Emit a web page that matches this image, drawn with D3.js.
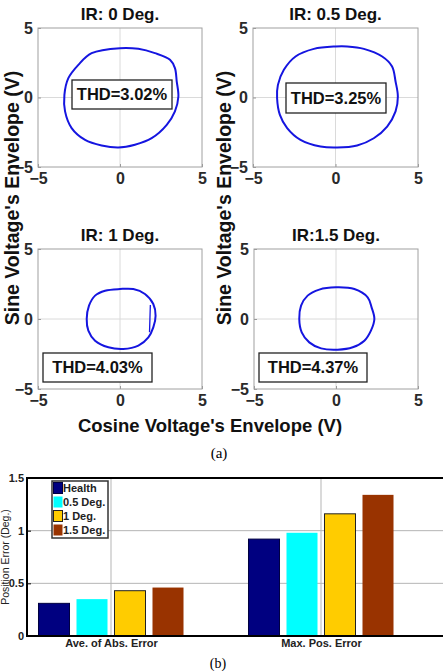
<!DOCTYPE html>
<html>
<head>
<meta charset="UTF-8">
<title>Envelope loops and position error</title>
<script src="https://d3js.org/d3.v7.min.js"></script>
<style>
  body { margin: 0; background: #fff; }
  svg { display: block; font-family: "Liberation Sans", Arial, sans-serif; }
</style>
</head>
<body>
<svg id="chart" width="443" height="671"></svg>
<script>
// ---- data ----
const panelTitles = ["IR: 0 Deg.", "IR: 0.5 Deg.", "IR: 1 Deg.", "IR:1.5 Deg."];
const thdLabels = ["THD=3.02%", "THD=3.25%", "THD=4.03%", "THD=4.37%"];
const voltTicks = [-5, 0, 5];

// cosine / sine envelope loops, [cos, sin] in volts
const loopIR0 = [[0,3.55],[-1.73,3.19],[-2.54,2.35],[-3.15,1.39],[-3.39,0.19],[-3.35,-1.0],[-2.95,-2.2],
  [-2.13,-3.05],[-1.12,-3.45],[-0.1,-3.6],[0.91,-3.4],[1.93,-2.93],[2.85,-1.97],[3.35,-1.0],[3.56,0.07],
  [3.46,1.15],[3.35,2.11],[3.05,2.71],[2.13,3.19],[1.12,3.5]];
const loopIR05 = [[0,3.67],[-1.31,3.5],[-2.42,2.95],[-3.13,1.99],[-3.49,0.91],[-3.54,-0.05],[-3.37,-1.25],
  [-2.93,-2.2],[-2.12,-3.05],[-0.91,-3.53],[0.1,-3.6],[1.31,-3.45],[2.32,-2.93],[3.13,-2.09],[3.64,-1.0],
  [3.78,0.07],[3.64,1.15],[3.43,2.23],[2.83,2.95],[1.72,3.5],[0.71,3.67]];
const loopIR1 = [[0,2.14],[-0.91,2.02],[-1.52,1.67],[-1.89,0.95],[-2.03,0],[-1.93,-0.83],[-1.52,-1.55],
  [-0.71,-2.02],[0.2,-2.14],[1.12,-1.9],[1.73,-1.31],[2.03,-0.6],[2.17,0.24],[2.03,1.07],[1.52,1.79],[0.81,2.14]];
const chordIR1 = [[1.85,1.0],[1.8,-0.95]];
const loopIR15 = [[0,2.26],[-1.02,2.1],[-1.73,1.67],[-2.13,0.95],[-2.24,0],[-2.09,-0.95],[-1.63,-1.67],
  [-0.91,-2.1],[0.1,-2.19],[1.02,-2.02],[1.73,-1.55],[2.13,-0.83],[2.34,0],[2.17,0.83],[1.93,1.55],[1.12,2.14]];
const loops = [loopIR0, loopIR05, loopIR1, loopIR15];

// bar chart
const barCategories = ["Ave. of Abs. Error", "Max. Pos. Error"];
const barSeries = ["Health", "0.5 Deg.", "1 Deg.", "1.5 Deg."];
const healthErr = [0.31, 0.92];
const deg05Err = [0.35, 0.98];
const deg1Err = [0.43, 1.16];
const deg15Err = [0.46, 1.34];
const barTicks = [0, 0.5, 1, 1.5];
const barTickLabels = ["0", "0.5", "1", "1.5"];

// ---- layout / styles ----
const svg = d3.select('#chart');
const loopColor = '#1515e0';
const panels = [
  { left: 38, top: 28, w: 164, h: 139, box: [34, 52, 100, 29] },
  { left: 253, top: 28, w: 165, h: 139, box: [33, 55, 100, 30] },
  { left: 38, top: 249, w: 164, h: 140, box: [5, 104, 109, 29] },
  { left: 254, top: 249, w: 164, h: 140, box: [5, 104, 108, 29] }
];

panels.forEach((p, i) => {
  const g = svg.append('g').attr('transform', `translate(${p.left},${p.top})`);
  const x = d3.scaleLinear().domain([-5, 5]).range([0, p.w]);
  const y = d3.scaleLinear().domain([-5, 5]).range([p.h, 0]);

  // grid lines at 0
  g.append('line').attr('x1', x(0)).attr('x2', x(0)).attr('y1', 0).attr('y2', p.h)
    .attr('stroke', '#dadada').attr('stroke-width', 1);
  g.append('line').attr('x1', 0).attr('x2', p.w).attr('y1', y(0)).attr('y2', y(0))
    .attr('stroke', '#dadada').attr('stroke-width', 1);

  const xAxis = g.append('g').attr('transform', `translate(0,${p.h})`)
    .call(d3.axisBottom(x).tickValues(voltTicks).tickSize(-3).tickPadding(6));
  const yAxis = g.append('g')
    .call(d3.axisLeft(y).tickValues(voltTicks).tickSize(-3).tickPadding(5));
  [xAxis, yAxis].forEach(a => {
    a.attr('font-family', null).attr('font-size', null);
    a.select('.domain').remove();
    a.selectAll('line').attr('stroke', '#999');
    a.selectAll('text').attr('fill', '#2a2a2a').style('font-size', '16px').style('font-weight', 'bold');
  });

  g.append('rect').attr('width', p.w).attr('height', p.h)
    .attr('fill', 'none').attr('stroke', '#a0a0a0').attr('stroke-width', 1);

  // loop
  const line = d3.line().x(d => x(d[0])).y(d => y(d[1])).curve(d3.curveCatmullRomClosed.alpha(0.5));
  g.append('path').attr('d', line(loops[i]))
    .attr('fill', 'none').attr('stroke', loopColor).attr('stroke-width', 2);
  if (i === 2) {
    g.append('path').attr('d', d3.line().x(d => x(d[0])).y(d => y(d[1]))(chordIR1))
      .attr('fill', 'none').attr('stroke', loopColor).attr('stroke-width', 1.3);
  }

  // THD box
  const [bx, by, bw, bh] = p.box;
  g.append('rect').attr('x', bx).attr('y', by).attr('width', bw).attr('height', bh)
    .attr('fill', '#fff').attr('stroke', '#222').attr('stroke-width', 1.3);
  g.append('text').attr('x', bx + bw / 2).attr('y', by + bh / 2).attr('dy', '0.36em')
    .attr('text-anchor', 'middle').style('font-size', '16.5px').style('font-weight', 'bold')
    .attr('fill', '#111').text(thdLabels[i]);

  // title
  g.append('text').attr('x', p.w / 2).attr('y', -8).attr('text-anchor', 'middle')
    .style('font-size', '17px').style('font-weight', 'bold').attr('fill', '#111')
    .text(panelTitles[i]);
});

// axis labels of the loop grid
[12, 224].forEach(cx => {
  svg.append('text').attr('transform', `translate(${cx},198) rotate(-90)`)
    .attr('text-anchor', 'middle').attr('dy', '0.36em')
    .style('font-size', '19.5px').style('font-weight', 'bold').attr('fill', '#111')
    .text("Sine Voltage's Envelope (V)");
});
svg.append('text').attr('x', 210).attr('y', 432).attr('text-anchor', 'middle')
  .style('font-size', '18.5px').style('font-weight', 'bold').attr('fill', '#111')
  .text("Cosine Voltage's Envelope (V)");
svg.append('text').attr('x', 219).attr('y', 458).attr('text-anchor', 'middle')
  .style('font-family', '"Liberation Serif", "Times New Roman", serif').style('font-size', '15px')
  .text('(a)');

// ---- bar chart ----
const bx = d3.scaleLinear().domain([0.6, 2.6]).range([27, 447]);
const by = d3.scaleLinear().domain([0, 1.5]).range([636, 478]);
const inner = d3.scaleBand().domain(barSeries).range([-76, 76]).paddingInner(0.184).paddingOuter(0.092);
const barColors = ['#000080', '#00ffff', '#ffcc00', '#993300'];
const barEdges = ['#000040', 'none', '#222', 'none'];
const seriesVals = [healthErr, deg05Err, deg1Err, deg15Err];

const bg = svg.append('g');
// grid
barTicks.slice(1, 3).forEach(t => {
  bg.append('line').attr('x1', bx(0.6)).attr('x2', bx(2.6)).attr('y1', by(t)).attr('y2', by(t))
    .attr('stroke', '#b5b5b5').attr('stroke-width', 1);
});
barCategories.forEach((c, j) => {
  bg.append('line').attr('x1', bx(j + 1)).attr('x2', bx(j + 1)).attr('y1', by(1.5)).attr('y2', by(0))
    .attr('stroke', '#b5b5b5').attr('stroke-width', 1);
});

// bars
barSeries.forEach((s, k) => {
  bg.selectAll(null).data(seriesVals[k]).enter().append('rect')
    .attr('x', (d, j) => bx(j + 1) + inner(s))
    .attr('width', inner.bandwidth())
    .attr('y', d => by(d))
    .attr('height', d => by(0) - by(d))
    .attr('fill', barColors[k])
    .attr('stroke', barEdges[k]).attr('stroke-width', 1);
});

// axes
const yAx = bg.append('g').attr('transform', `translate(${bx(0.6)},0)`)
  .call(d3.axisLeft(by).tickValues(barTicks).tickFormat((d, i) => barTickLabels[i]).tickSize(-4).tickPadding(3));
yAx.attr('font-family', null).attr('font-size', null);
yAx.select('.domain').remove();
yAx.selectAll('line').attr('stroke', '#000');
yAx.selectAll('text').style('font-size', '11px').style('font-weight', 'bold').attr('fill', '#222');
const yAxR = bg.append('g').attr('transform', `translate(${bx(2.6)},0)`)
  .call(d3.axisRight(by).tickValues(barTicks).tickFormat('').tickSize(-4));
yAxR.select('.domain').remove();
yAxR.selectAll('line').attr('stroke', '#000');

const xAx = bg.append('g').attr('transform', `translate(0,${by(0)})`)
  .call(d3.axisBottom(bx).tickValues([1, 2]).tickFormat((d, i) => barCategories[i]).tickSize(0).tickPadding(3));
xAx.attr('font-family', null).attr('font-size', null);
xAx.select('.domain').remove();
xAx.selectAll('text').style('font-size', '11px').style('font-weight', 'bold').attr('fill', '#222');

// frame
bg.append('rect').attr('x', bx(0.6)).attr('y', by(1.5)).attr('width', bx(2.6) - bx(0.6)).attr('height', by(0) - by(1.5))
  .attr('fill', 'none').attr('stroke', '#000').attr('stroke-width', 2);

svg.append('text').attr('transform', `translate(8.5,557) rotate(-90)`).attr('text-anchor', 'middle')
  .style('font-size', '10.5px').attr('fill', '#222').text('Position Error (Deg.)');

// legend
const lg = svg.append('g').attr('transform', 'translate(52,481)');
lg.append('rect').attr('width', 56).attr('height', 57).attr('fill', '#fff')
  .attr('stroke', '#333').attr('stroke-width', 1.5);
barSeries.forEach((s, k) => {
  lg.append('rect').attr('x', 1.5).attr('y', 1.5 + k * 14).attr('width', 9).attr('height', 11)
    .attr('fill', barColors[k]).attr('stroke', barEdges[k]).attr('stroke-width', 1);
  lg.append('text').attr('x', 11).attr('y', 7 + k * 14).attr('dy', '0.36em')
    .style('font-size', '11px').style('font-weight', 'bold').attr('fill', '#222').text(s);
});

svg.append('text').attr('x', 218).attr('y', 668).attr('text-anchor', 'middle')
  .style('font-family', '"Liberation Serif", "Times New Roman", serif').style('font-size', '14px')
  .text('(b)');
</script>
</body>
</html>
